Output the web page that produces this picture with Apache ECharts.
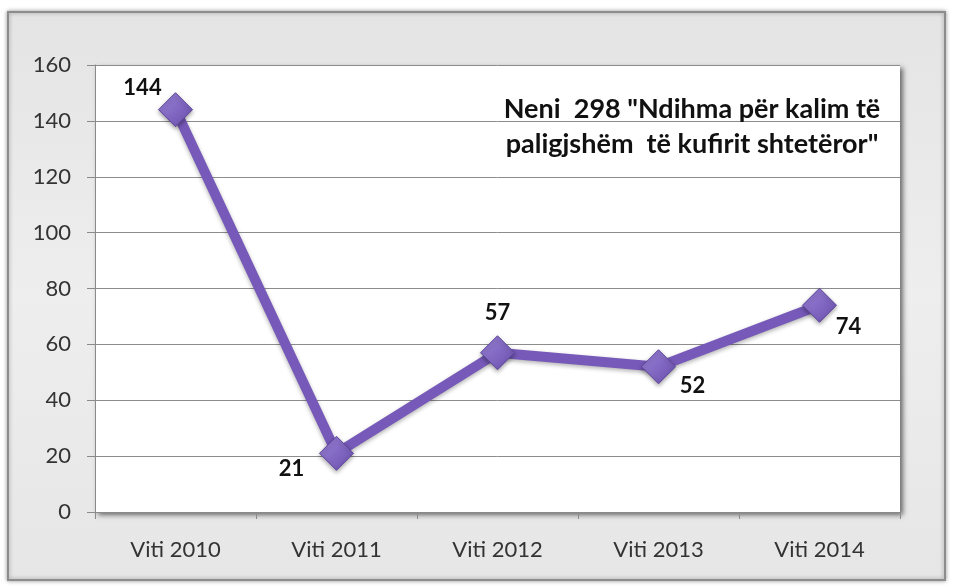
<!DOCTYPE html>
<html>
<head>
<meta charset="utf-8">
<style>
  html, body { margin: 0; padding: 0; background: #ffffff; }
  #chart { width: 954px; height: 587px; }
</style>
<script src="https://cdn.jsdelivr.net/npm/echarts@6/dist/echarts.min.js"></script>
</head>
<body>
<div id="chart"></div>
<script>
// Years on the category axis
const categories = ['Viti 2010', 'Viti 2011', 'Viti 2012', 'Viti 2013', 'Viti 2014'];
// Number of cases per year
const values = [144, 21, 57, 52, 74];
// Value-axis range
const yMin = 0, yMax = 160, yStep = 20;
const chartTitle = 'Neni  298 "Ndihma për kalim të\npaligjshëm  të kufirit shtetëror"';

// Where each value label sits relative to its marker (pixels)
const labelOffsets = [[-33, -22], [-45, 16], [0, -40], [34, 19], [29, 22]];

const FONT = 'Lato, "Open Sans", sans-serif';

const chart = echarts.init(document.getElementById('chart'));

const seriesData = values.map((v, i) => ({
  value: v,
  label: { offset: labelOffsets[i] }
}));

chart.setOption({
  animation: false,
  backgroundColor: '#ffffff',
  graphic: [{
    type: 'rect',
    z: -10,
    silent: true,
    shape: { x: 8, y: 12, width: 937, height: 568 },
    style: {
      fill: new echarts.graphic.LinearGradient(0, 0, 0, 1, [
        { offset: 0, color: '#e4e4e4' },
        { offset: 0.5, color: '#eeeeee' },
        { offset: 1, color: '#e6e6e6' }
      ]),
      stroke: '#8c8c8c',
      lineWidth: 2,
      shadowBlur: 4,
      shadowColor: 'rgba(0,0,0,0.35)'
    }
  }],
  title: {
    text: chartTitle,
    left: 687,
    top: 87,
    textAlign: 'center',
    textStyle: {
      fontFamily: FONT,
      fontWeight: 'bold',
      fontSize: 27,
      lineHeight: 35,
      color: '#111111'
    }
  },
  grid: {
    left: 95, top: 65, right: 54, bottom: 75,
    show: true,
    backgroundColor: '#ffffff',
    borderWidth: 0,
    shadowBlur: 5,
    shadowOffsetX: 3,
    shadowOffsetY: 3,
    shadowColor: 'rgba(0,0,0,0.55)'
  },
  xAxis: {
    type: 'category',
    data: categories,
    boundaryGap: true,
    axisLine: { lineStyle: { color: '#8a8a8a', width: 1 } },
    axisTick: { show: true, length: 7, lineStyle: { color: '#8a8a8a' } },
    axisLabel: { fontFamily: FONT, fontSize: 22, color: '#333333', margin: 27 }
  },
  yAxis: {
    type: 'value',
    min: yMin, max: yMax, interval: yStep,
    axisLine: { show: true, lineStyle: { color: '#8a8a8a', width: 1 } },
    axisTick: { show: true, length: 8, lineStyle: { color: '#8a8a8a' } },
    axisLabel: { fontFamily: FONT, fontSize: 22, color: '#333333', margin: 24 },
    splitLine: { show: true, lineStyle: { color: '#8c8c8c', width: 1 } }
  },
  series: [{
    type: 'line',
    data: seriesData,
    symbol: 'diamond',
    symbolSize: 34,
    lineStyle: {
      color: '#7659b8',
      width: 10,
      shadowBlur: 4,
      shadowOffsetY: 2,
      shadowColor: 'rgba(0,0,0,0.3)'
    },
    itemStyle: {
      color: new echarts.graphic.LinearGradient(0, 0, 1, 1, [
        { offset: 0, color: '#9a82d6' },
        { offset: 1, color: '#6a4fae' }
      ]),
      borderColor: '#5e469c',
      borderWidth: 1,
      shadowBlur: 4,
      shadowOffsetY: 2,
      shadowColor: 'rgba(0,0,0,0.35)'
    },
    label: {
      show: true,
      position: 'inside',
      fontFamily: FONT,
      fontWeight: 'bold',
      fontSize: 22,
      color: '#111111'
    }
  }]
});
</script>
</body>
</html>
